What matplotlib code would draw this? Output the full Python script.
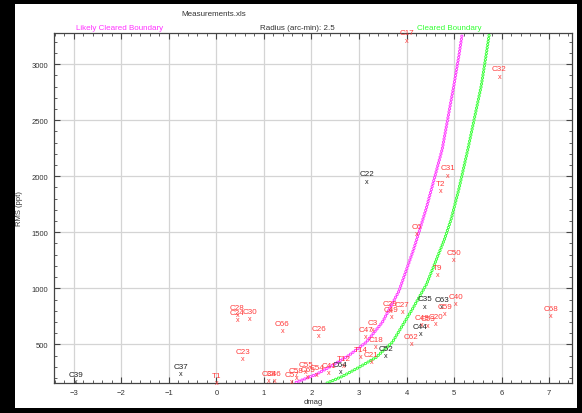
import matplotlib.pyplot as plt
from matplotlib.patches import Rectangle

plt.rcParams['font.family'] = ['Liberation Sans', 'DejaVu Sans']
plt.rcParams['lines.scale_dashes'] = False

# star measurements: name, dmag, rms (ppt)
names = ["C17", "C32", "C22", "C31", "T2", "C6", "C50", "T9", "C35", "C63",
         "C40", "C59", "C20", "C53", "C48", "C44", "C62", "C52", "C27", "C29",
         "C49", "C3", "C47", "C18", "T14", "C21", "T12", "C64", "C41", "C55",
         "C54", "C58", "C65", "C57", "C38", "C46", "C39", "C37", "T1", "C23",
         "C28", "C24", "C30", "C66", "C26", "C68"]
dmag = [4.01, 5.95, 3.17, 4.87, 4.71, 4.22, 5.00, 4.66, 4.39, 4.75,
        5.04, 4.81, 4.62, 4.45, 4.33, 4.29, 4.10, 3.57, 3.91, 3.66,
        3.68, 3.28, 3.15, 3.36, 3.03, 3.26, 2.67, 2.61, 2.37, 1.89,
        2.12, 1.68, 1.93, 1.58, 1.11, 1.22, -2.96, -0.74, 0.00, 0.55,
        0.44, 0.44, 0.71, 1.39, 2.16, 7.04]
rms = [3215, 2893, 1956, 2009, 1875, 1491, 1259, 1125, 842, 839,
       866, 777, 688, 670, 679, 598, 509, 402, 795, 800,
       750, 634, 571, 482, 393, 348, 312, 259, 250, 259,
       232, 205, 214, 170, 178, 178, 170, 241, 161, 375,
       768, 723, 732, 625, 580, 759]
dark = ["C22", "C35", "C63", "C44", "C52", "C64", "C39", "C37"]

# boundary curves
likely_dmag = [1.68, 2.10, 2.44, 2.79, 3.15, 3.49, 3.84, 4.15, 4.41, 4.58, 4.75, 5.00, 5.10, 5.17]
likely_rms = [161, 232, 312, 402, 518, 696, 975, 1348, 1706, 1973, 2241, 2822, 3072, 3268]
cleared_dmag = [2.33, 2.65, 3.00, 3.36, 3.70, 4.12, 4.42, 4.63, 4.80, 4.94, 5.10, 5.29, 5.57, 5.67, 5.74]
cleared_rms = [155, 214, 295, 384, 518, 812, 1036, 1259, 1440, 1620, 1884, 2241, 2804, 3072, 3268]

red = '#ff3b3b'
magenta = '#ff33ff'
green = '#33ff33'

fig = plt.figure(figsize=(5.82, 4.14), dpi=100, facecolor='black')
fig.patches.append(Rectangle((15 / 582, 5 / 414), 562 / 582, 404 / 414,
                             transform=fig.transFigure, facecolor='white', zorder=-5))
ax = fig.add_axes([54 / 582, 30 / 414, 518 / 582, 350 / 414])
ax.set_facecolor('white')

# hollow circle look: coloured dots with smaller white dots on top
for xs, ys, col in [(likely_dmag, likely_rms, magenta), (cleared_dmag, cleared_rms, green)]:
    ax.plot(xs, ys, color=col, lw=2.3, dashes=(0.01, 2.2), dash_capstyle='round', zorder=3)
    ax.plot(xs, ys, color='white', lw=1.0, dashes=(0.01, 2.2), dash_capstyle='round', zorder=3)

for n, x, y in zip(names, dmag, rms):
    c = '#222222' if n in dark else red
    ax.text(x, y, 'x', color=c, fontsize=5.2, ha='center', va='center', zorder=4)
    ax.annotate(n, (x, y), xytext=(0, 5.2), textcoords='offset points', color=c,
                fontsize=5.8, ha='center', va='center', zorder=4, annotation_clip=False)

ax.set_xlim(-3.415, 7.48)
ax.set_ylim(155, 3278)
ax.set_xticks(range(-3, 8))
ax.set_xticks([i / 5 for i in range(-17, 38)], minor=True)
ax.set_yticks([500, 1000, 1500, 2000, 2500, 3000])
ax.set_yticks(range(200, 3278, 100), minor=True)
ax.grid(True, which='major', color='#d4d4d4', lw=0.9)
ax.set_axisbelow(True)
ax.tick_params(which='both', direction='in', top=True, right=True, labelsize=5.5,
               labelcolor='#333333', color='#444444', pad=4)
ax.tick_params(which='major', length=4)
ax.tick_params(which='minor', length=2)
for s in ax.spines.values():
    s.set_color('#444444')
    s.set_linewidth(0.9)

ax.set_xlabel("dmag", fontsize=5.5, color='#333333', labelpad=2)
ax.set_ylabel("RMS (ppt)", fontsize=5.5, color='#333333', labelpad=6)

fig.text(214 / 582, 1 - 15 / 414, "Measurements.xls", fontsize=5.8, color='#333333', ha='center', va='center')
fig.text(120 / 582, 1 - 28 / 414, "Likely Cleared Boundary", fontsize=5.8, color=magenta, ha='center', va='center')
fig.text(297 / 582, 1 - 28 / 414, "Radius (arc-min): 2.5", fontsize=5.8, color='#333333', ha='center', va='center')
fig.text(449 / 582, 1 - 28 / 414, "Cleared Boundary", fontsize=5.8, color=green, ha='center', va='center')

plt.savefig("out.png", dpi=100, facecolor='black')
